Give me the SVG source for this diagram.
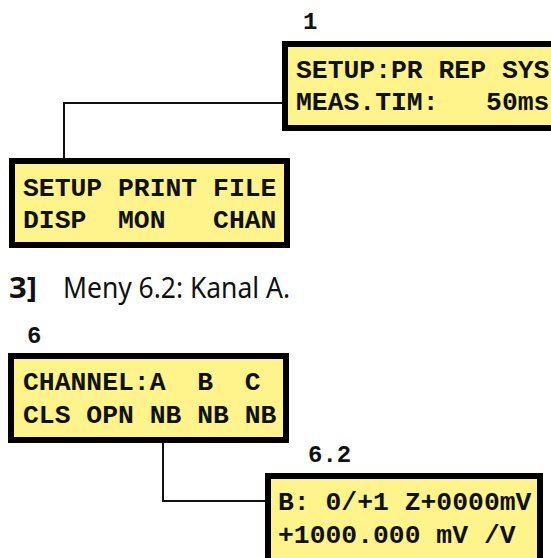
<svg xmlns="http://www.w3.org/2000/svg" width="551" height="558" viewBox="0 0 551 558">
<style>
.box{fill:#FFF38C;stroke:#000;stroke-width:6}
.lcd{font-family:"Courier New","Liberation Mono",monospace;font-weight:bold;font-size:26.4px;fill:#111}
.lbl{font-family:"Courier New","Liberation Mono",monospace;font-weight:bold;font-size:24px;fill:#111}
.conn{fill:none;stroke:#111;stroke-width:2}
.cap{font-family:"Noto Sans","Open Sans",sans-serif;font-size:29px;fill:#111}
</style>
<rect width="551" height="558" fill="#fff"/>
<g id="connectors">
<path class="conn" d="M282,103 H64 V158"/>
<path class="conn" d="M163,443 V501 H265"/>
</g>
<g id="node1">
<text class="lbl" x="303" y="29">1</text>
<rect class="box" x="285" y="44" width="300" height="84"/>
<text class="lcd" x="296" y="78" xml:space="preserve">SETUP:PR REP SYS</text>
<text class="lcd" x="296" y="110" xml:space="preserve">MEAS.TIM:   50ms</text>
</g>
<g id="node2">
<rect class="box" x="12" y="161" width="275" height="84"/>
<text class="lcd" x="23" y="196" xml:space="preserve">SETUP PRINT FILE</text>
<text class="lcd" x="23" y="228" xml:space="preserve">DISP  MON   CHAN</text>
</g>
<g id="caption">
<text class="cap" x="9" y="298" font-weight="bold" font-size="31" textLength="28" lengthAdjust="spacingAndGlyphs">3]</text>
<text class="cap" x="63" y="298" textLength="227" lengthAdjust="spacingAndGlyphs">Meny 6.2: Kanal A.</text>
</g>
<g id="node3">
<text class="lbl" x="27" y="343">6</text>
<rect class="box" x="11" y="356" width="275" height="84"/>
<text class="lcd" x="23" y="390" xml:space="preserve">CHANNEL:A  B  C</text>
<text class="lcd" x="23" y="423" xml:space="preserve">CLS OPN NB NB NB</text>
</g>
<g id="node4">
<text class="lbl" x="308" y="462">6.2</text>
<rect class="box" x="268" y="476" width="272" height="90"/>
<text class="lcd" x="278" y="510" xml:space="preserve">B: 0/+1 Z+0000mV</text>
<text class="lcd" x="278" y="543" xml:space="preserve">+1000.000 mV /V</text>
</g>
</svg>
